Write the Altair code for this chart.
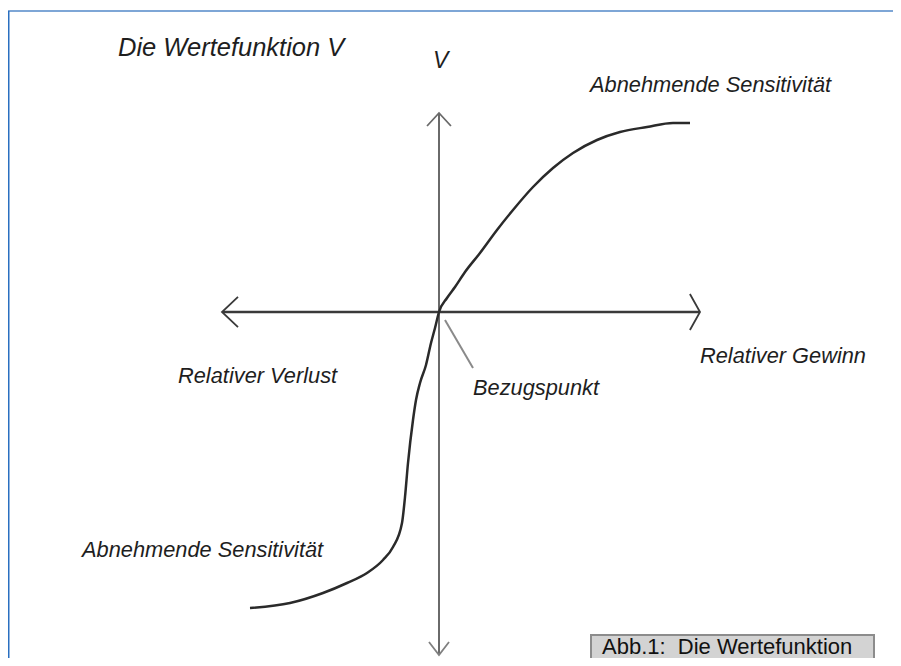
import altair as alt
import pandas as pd

# ---- data (units: relative gain/loss on x, value V on y; origin = reference point)
upper_x = [0, 0.16, 0.32, 0.52, 0.82, 1.16, 1.48, 1.88, 2.28, 2.68, 3.16, 3.62, 4.16, 4.68, 5.02]
upper_y = [0, 0.28, 0.50, 0.80, 1.18, 1.64, 2.04, 2.50, 2.88, 3.18, 3.44, 3.60, 3.70, 3.78, 3.78]
lower_x = [-3.78, -2.98, -2.32, -1.84, -1.44, -1.12, -0.92, -0.74, -0.68, -0.62, -0.52, -0.46, -0.38, -0.26, -0.16, -0.08]
lower_y = [-5.92, -5.82, -5.62, -5.42, -5.22, -4.96, -4.70, -4.22, -3.70, -3.02, -2.16, -1.76, -1.42, -1.06, -0.62, -0.32]

labels = ["Die Wertefunktion V", "V", "Abnehmende Sensitivität", "Relativer Gewinn",
          "Relativer Verlust", "Bezugspunkt", "Abnehmende Sensitivität"]
label_x = [-6.42, -0.12, 3.02, 5.22, -5.22, 0.68, -7.14]
label_y = [5.12, 4.88, 4.40, -1.02, -1.42, -1.66, -4.90]
label_size = [25.5, 23, 21.8, 21.8, 21.8, 21.8, 21.8]

caption = "Abb.1:\u00a0 Die Wertefunktion"

X_DOMAIN = [-8.62, 9.08]
Y_DOMAIN = [-6.92, 6.08]
W, H = 885, 650

xs = alt.Scale(domain=X_DOMAIN, nice=False, zero=False)
ys = alt.Scale(domain=Y_DOMAIN, nice=False, zero=False)

curve = pd.DataFrame({
    "x": lower_x + upper_x,
    "y": lower_y + upper_y,
})
curve["o"] = range(len(curve))

line = alt.Chart(curve).mark_line(color="#2a2a2a", strokeWidth=2.5, interpolate="monotone").encode(
    x=alt.X("x:Q", scale=xs, axis=None),
    y=alt.Y("y:Q", scale=ys, axis=None),
    order="o:Q",
)

haxis = alt.Chart(pd.DataFrame({"x": [-4.32], "x2": [5.20], "y": [0]})).mark_rule(
    color="#3a3a3a", strokeWidth=2.6).encode(
    x=alt.X("x:Q", scale=xs, axis=None), x2="x2:Q", y=alt.Y("y:Q", scale=ys, axis=None))

vaxis = alt.Chart(pd.DataFrame({"x": [0], "y": [3.96], "y2": [-6.84]})).mark_rule(
    color="#6a6a6a", strokeWidth=2).encode(
    x=alt.X("x:Q", scale=xs, axis=None), y=alt.Y("y:Q", scale=ys, axis=None), y2="y2:Q")

pointer = alt.Chart(pd.DataFrame({"x": [0.12], "x2": [0.68], "y": [-0.16], "y2": [-1.12]})).mark_rule(
    color="#8a8a8a", strokeWidth=2).encode(
    x=alt.X("x:Q", scale=xs, axis=None), x2="x2:Q",
    y=alt.Y("y:Q", scale=ys, axis=None), y2="y2:Q")

def arrow(x, y, path, size, color):
    return alt.Chart(pd.DataFrame({"x": [x], "y": [y]})).mark_point(
        shape=path, size=size, filled=False, stroke=color, strokeWidth=1.8, opacity=1).encode(
        x=alt.X("x:Q", scale=xs, axis=None), y=alt.Y("y:Q", scale=ys, axis=None))

arrows = [
    arrow(5.22, 0, "M-0.56,-1L0,0L-0.56,1", 1296, "#3a3a3a"),
    arrow(-4.34, 0, "M1,-0.94L0,0L1,0.94", 1024, "#3a3a3a"),
    arrow(0, 3.98, "M-0.92,1L0,0L0.92,1", 676, "#6a6a6a"),
    arrow(0, -6.86, "M-0.77,-1L0,0L0.77,-1", 676, "#808080"),
]

texts_df = pd.DataFrame({"label": labels, "x": label_x, "y": label_y, "fs": label_size})
texts = alt.Chart(texts_df).mark_text(
    align="left", baseline="alphabetic", fontStyle="italic",
    font="Liberation Sans, Arial, sans-serif",
    color="#1e1e1e").encode(
    x=alt.X("x:Q", scale=xs, axis=None), y=alt.Y("y:Q", scale=ys, axis=None),
    text="label:N", size=alt.Size("fs:Q", scale=None, legend=None))

box = alt.Chart(pd.DataFrame({"x": [3.04], "x2": [8.70], "y": [-6.46], "y2": [-7.2]})).mark_rect(
    fill="#d3d3d3", stroke="#8c8c8c", strokeWidth=2).encode(
    x=alt.X("x:Q", scale=xs, axis=None), x2="x2:Q",
    y=alt.Y("y:Q", scale=ys, axis=None), y2="y2:Q")

box_text = alt.Chart(pd.DataFrame({"label": [caption], "x": [3.26], "y": [-6.84]})).mark_text(
    align="left", baseline="alphabetic", font="Liberation Sans, Arial, sans-serif",
    fontSize=22, color="#111111").encode(
    x=alt.X("x:Q", scale=xs, axis=None), y=alt.Y("y:Q", scale=ys, axis=None), text="label:N")

border_top = alt.Chart(pd.DataFrame({"k": [0]})).mark_rule(color="#7ea6d6", strokeWidth=2).encode(
    x=alt.value(0), x2=alt.value(W), y=alt.value(3))
border_left = alt.Chart(pd.DataFrame({"k": [0]})).mark_rule(color="#2a6fc0", strokeWidth=1.5).encode(
    x=alt.value(0.75), y=alt.value(3), y2=alt.value(H))

chart = alt.layer(
    border_top, border_left, haxis, vaxis, pointer, line, *arrows, texts, box, box_text
).properties(
    width=W, height=H, padding=0, background="white",
    autosize=alt.AutoSizeParams(type="none"),
).configure_view(strokeWidth=0)

chart.save("out.html", embed_options={"renderer": "svg", "actions": False})
